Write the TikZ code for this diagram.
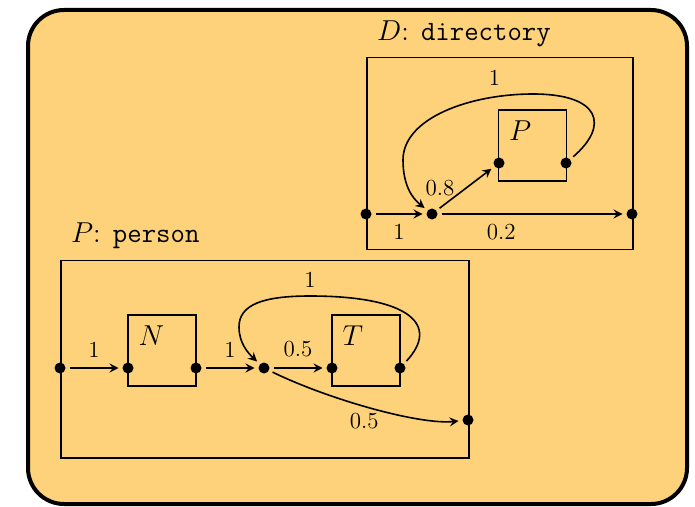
\documentclass[tikz,border=0pt]{standalone}
\usetikzlibrary{positioning,arrows.meta}
\definecolor{bgyellow}{RGB}{253,210,122}

\begin{document}
\begin{tikzpicture}[x=0.5pt, y=-0.5pt]
    \tikzstyle{port} = [circle, fill=black, inner sep=0pt, minimum size=5.5pt, outer sep=2pt]
    \tikzstyle{comp} = [rectangle, draw=black, line width=0.75pt,
      minimum width=34pt, minimum height=35.5pt]
    \tikzstyle{frame} = [rectangle, draw=black, line width=0.75pt, anchor=north west]
    \tikzstyle{arrow} = [->, >={Stealth[length=4.5pt, width=4.5pt, inset=1.6pt]}, line width=0.8pt]
    \tikzstyle{num} = [font=\fontsize{11.5}{13}\selectfont, inner sep=2pt]
    \tikzstyle{title} = [font=\fontsize{14}{16}\selectfont]

    \useasboundingbox (0,0) rectangle (695,507);
    \draw [line width=2pt, fill=bgyellow, rounded corners=18pt] (28,10) rectangle (687,504);

    % directory
    \node (dbox) [frame, minimum width=133pt, minimum height=96pt] at (366,57) {};
    \node (dtitle) [title, anchor=base west] at ([shift={(4,-16)}]dbox.north west) {$D$: \texttt{directory}};
    \node (P) [comp] at (532.5,145.5) {};
    \node [title, anchor=north west, inner sep=5.5pt] at (P.north west) {$P$};

    \node (din) [port] at (366,214) {};
    \node (dmid) [port] at (432,214) {};
    \node (dout) [port] at (632,214) {};
    \node (Pin) [port] at (499,163) {};
    \node (Pout) [port] at (566,163) {};

    \draw [arrow] (din) -- node[num, below=2.5pt] {1} (dmid);
    \draw [arrow] (dmid) -- node[num, pos=0.3, above left, inner sep=0pt] {0.8} (Pin);
    \draw [arrow] (dmid) -- node[num, pos=0.33, below=2.5pt] {0.2} (dout);
    \draw [arrow] (Pout) .. controls (610,125) and (600,94) .. (533,94)
      node[num, above left=2pt and 14pt] {1}
      .. controls (470,94) and (403,118) .. (403,160)
      .. controls (403,185) and (412,198) .. (dmid);

    % person
    \node (pbox) [frame, minimum width=204pt, minimum height=98.5pt] at (60,260) {};
    \node (ptitle) [title, anchor=base west] at ([shift={(4,-17)}]pbox.north west) {$P$: \texttt{person}};
    \node (N) [comp] at (162,350.5) {};
    \node [title, anchor=north west, inner sep=5.5pt] at (N.north west) {$N$};
    \node (T) [comp] at (366,350.5) {};
    \node [title, anchor=north west, inner sep=5.5pt] at (T.north west) {$T$};

    \node (pin) [port] at (60,368) {};
    \node (Nin) [port] at (128,368) {};
    \node (Nout) [port] at (196,368) {};
    \node (pmid) [port] at (264,368) {};
    \node (Tin) [port] at (332,368) {};
    \node (Tout) [port] at (400,368) {};
    \node (pout) [port] at (468,420) {};

    \draw [arrow] (pin) -- node[num, above=3pt] {1} (Nin);
    \draw [arrow] (Nout) -- node[num, above=3pt] {1} (pmid);
    \draw [arrow] (pmid) -- node[num, above=3pt] {0.5} (Tin);
    \draw [arrow] (Tout) .. controls (440,325) and (410,296) .. (310,296)
      node[num, above=2pt] {1}
      .. controls (262,296) and (239,305) .. (239,327)
      .. controls (239,343) and (248,353) .. (pmid);
    \draw [arrow] (pmid) .. controls (330,400) and (420,425) .. node[num, pos=0.46, below=1pt] {0.5} (pout);
\end{tikzpicture}
\end{document}
